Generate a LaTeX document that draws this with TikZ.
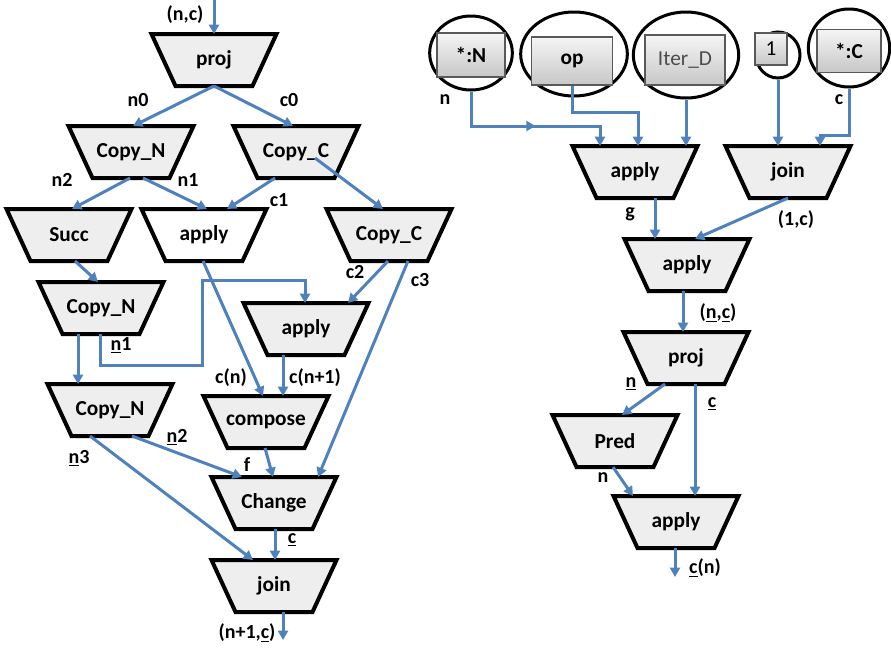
\documentclass[tikz,border=0pt]{standalone}
\usepackage{fontspec}
\setmainfont{Carlito}
\usetikzlibrary{arrows.meta,calc,shapes.geometric,decorations.markings}

\definecolor{linkblue}{HTML}{4F81BD}
\definecolor{boxgray}{HTML}{EEEEEE}

\tikzset{
  x=0.75pt, y=-0.75pt,
  trap/.style={draw=black, line width=3pt, line join=miter, fill=boxgray},
  trapw/.style={trap, fill=white},
  tlabel/.style={inner sep=0pt, outer sep=0pt, minimum width=93.75pt,
    minimum height=39pt, font=\fontsize{16}{19}\selectfont\bfseries},
  flow/.style={draw=linkblue, line width=2.25pt,
    -{Triangle[length=7pt,width=7.5pt]}},
  midarrow/.style={postaction={decorate}, decoration={markings,
    mark=at position 0.54 with {\arrow[linkblue]{Triangle[length=7pt,width=7.5pt]}}}},
  lab/.style={inner sep=0pt, font=\fontsize{15}{18}\selectfont\bfseries},
  ring/.style={ellipse, draw=black, line width=2.25pt, inner sep=0pt},
  srcbox/.style={draw=black!65, line width=0.8pt, top color=white!96!black,
    bottom color=black!22, inner sep=0pt,
    font=\fontsize{16}{19}\selectfont\bfseries},
}

% inverted trapezoid block: [style] name, x, y, text
\newcommand\trapnode[5][trap]{%
  \path[#1] (#3-62.5,#4-26) -- (#3+62.5,#4-26) -- (#3+38.5,#4+26)
    -- (#3-38.5,#4+26) -- cycle;
  \node[tlabel] (#2) at (#3,#4) {#5};}

\begin{document}
\begin{tikzpicture}
\useasboundingbox (0,0) rectangle (891,647);

% ---------------- left network ----------------
\trapnode{proj}{214}{60}{proj}
\trapnode{copyNa}{131}{152}{Copy\_N}
\trapnode{copyCa}{296}{152}{Copy\_C}
\trapnode{succ}{69}{235}{Succ}
\trapnode[trapw]{applyA}{204}{235}{apply}
\trapnode{copyCb}{389}{235}{Copy\_C}
\trapnode{copyNb}{101}{308}{Copy\_N}
\trapnode{applyB}{306}{329}{apply}
\trapnode{copyNc}{110}{410}{Copy\_N}
\trapnode{compose}{266}{422}{compose}
\trapnode{change}{274}{503}{Change}
\trapnode{joinL}{274}{586}{join}

\coordinate (pin) at (214,0);
\coordinate (lout) at (283,640);
\coordinate (bendA) at (202,365);
\coordinate (bendB) at (202,280);

\draw[flow] (pin) -- (proj.north);
\draw[flow] (proj.south) -- ($(copyNa.north)+(2,0)$);
\draw[flow] (proj.south) -- ($(copyCa.north)+(-3,0)$);
\draw[flow] ($(copyNa.south)+(-1,0)$) -- ($(succ.north)+(3,0)$);
\draw[flow] ($(copyNa.south)+(12,0)$) -- ($(applyA.north)+(3,0)$);
\draw[flow] ($(copyCa.south)+(-21,0)$) -- ($(applyA.north)+(23,0)$);
\draw[flow] ($(copyCa.center)+(19,6)$) -- ($(copyCb.north)+(-6,0)$);
\draw[flow] ($(succ.south)+(6,0)$) -- ($(copyNb.north)+(-3,0)$);
\draw[flow] ($(applyA.south)+(-1,0)$) -- ($(compose.north)+(-3,0)$);
\draw[flow] ($(copyCb.south)+(-1,0)$) -- ($(applyB.north)+(42,0)$);
\draw[flow] ($(copyCb.south)+(19,0)$) -- ($(change.north)+(44,0)$);
\draw[flow] ($(copyNb.south)+(-23,0)$) -- ($(copyNc.north)+(-32,0)$);
\draw[flow] ($(copyNb.south)+(-1,0)$) |- (bendA) -- (bendB) -| ($(applyB.north)+(-1,0)$);
\draw[flow] ($(applyB.south)+(-23,0)$) -- ($(compose.north)+(17,0)$);
\draw[flow] ($(copyNc.south)+(22,0)$) -- ($(change.north)+(-32,0)$);
\draw[flow] ($(copyNc.south)+(-20,0)$) -- ($(joinL.north)+(-21,0)$);
\draw[flow] ($(compose.south)+(-1,0)$) -- ($(change.north)+(-1,0)$);
\draw[flow] ($(change.south)+(1,0)$) -- ($(joinL.north)+(1,0)$);
\draw[flow] ($(joinL.south)+(9,0)$) -- (lout);

\node[lab] (tnc)  at (185,15)  {(n,c)};
\node[lab] (tn0)  at (138,100) {n0};
\node[lab] (tc0)  at (289,100) {c0};
\node[lab] (tn2)  at (62,180)  {n2};
\node[lab] (tn1)  at (188,180) {n1};
\node[lab] (tc1)  at (279,200) {c1};
\node[lab] (tc2)  at (355,272) {c2};
\node[lab] (tc3)  at (420,280) {c3};
\node[lab] (tun1) at (121,345) {\underline{n}1};
\node[lab] (tcn)  at (231,378) {c(n)};
\node[lab] (tcn1) at (315,378) {c(n+1)};
\node[lab] (tun2) at (177,437) {\underline{n}2};
\node[lab] (tun3) at (79,458)  {\underline{n}3};
\node[lab] (tf)   at (247,465) {f};
\node[lab] (tuc)  at (292,540) {\underline{c}};
\node[lab] (tout) at (247,633) {(n+1,\underline{c})};

% ---------------- right network ----------------
\node[ring, minimum width=62pt, minimum height=55.5pt] (starNring) at (471,53) {};
\node[ring, minimum width=80pt, minimum height=63pt] (opring) at (574,54) {};
\node[ring, minimum width=79pt, minimum height=64.5pt] (iterring) at (686,55) {};
\node[ring, minimum width=33pt, minimum height=34.5pt] (onering) at (778,55) {};
\node[ring, minimum width=61pt, minimum height=58.5pt] (starCring) at (849,48) {};

\node[srcbox, minimum width=51pt, minimum height=33pt] (starN) at (471,55) {*:N};
\node[srcbox, minimum width=60.75pt, minimum height=36pt] (opbox) at (572,61) {op};
\node[srcbox, minimum width=60pt, minimum height=37.5pt, font=\fontsize{16}{19}\selectfont,
  text=black!70] (iterbox) at (685,60) {Iter\_D};
\node[srcbox, minimum width=24pt, minimum height=24pt, font=\fontsize{16}{19}\selectfont]
  (onebox) at (771,49) {1};
\node[srcbox, minimum width=48pt, minimum height=32pt] (starC) at (849,51) {*:C};

\trapnode{applyR}{635}{172}{apply}
\trapnode{joinR}{788}{172}{join}
\trapnode{applyS}{687}{265}{apply}
\trapnode{projR}{686}{358}{proj}
\trapnode{pred}{615}{441}{Pred}
\trapnode{applyT}{676}{522}{apply}

\coordinate (rout) at (675,577);

\draw[flow, midarrow] (starNring.south) |- ($(applyR.north)+(-35,-20)$) -- ($(applyR.north)+(-35,0)$);
\draw[flow] (opbox.south) |- ($(applyR.north)+(3,-34)$) -- ($(applyR.north)+(3,0)$);
\draw[flow] (iterring.south) -- ($(applyR.north)+(51,0)$);
\draw[flow] (onering.south) -- ($(joinR.north)+(-10,0)$);
\draw[flow] (starCring.south) |- ($(joinR.north)+(32,-11)$) -- ($(joinR.north)+(32,0)$);
\draw[flow] ($(applyR.south)+(20,0)$) -- ($(applyS.north)+(-32,0)$);
\draw[flow] (joinR.south) -- ($(applyS.north)+(8,0)$);
\draw[flow] ($(applyS.south)+(-4,0)$) -- ($(projR.north)+(-3,0)$);
\draw[flow] ($(projR.south)+(-21,0)$) -- ($(pred.north)+(7,0)$);
\draw[flow] ($(projR.south)+(9,0)$) -- ($(applyT.north)+(19,0)$);
\draw[flow] ($(pred.south)+(-2,0)$) -- ($(applyT.north)+(-43,0)$);
\draw[flow] ($(applyT.south)+(-1,0)$) -- (rout);

\node[lab] (rn)   at (445,100) {n};
\node[lab] (rc)   at (839,100) {c};
\node[lab] (rg)   at (630,214) {g};
\node[lab] (r1c)  at (796,220) {(1,c)};
\node[lab] (rnc)  at (718,313) {(\underline{n},\underline{c})};
\node[lab] (run)  at (631,384) {\underline{n}};
\node[lab] (ruc)  at (712,404) {\underline{c}};
\node[lab] (rn2)  at (603,478) {n};
\node[lab] (rcn)  at (705,568) {\underline{c}(n)};
\end{tikzpicture}
\end{document}
